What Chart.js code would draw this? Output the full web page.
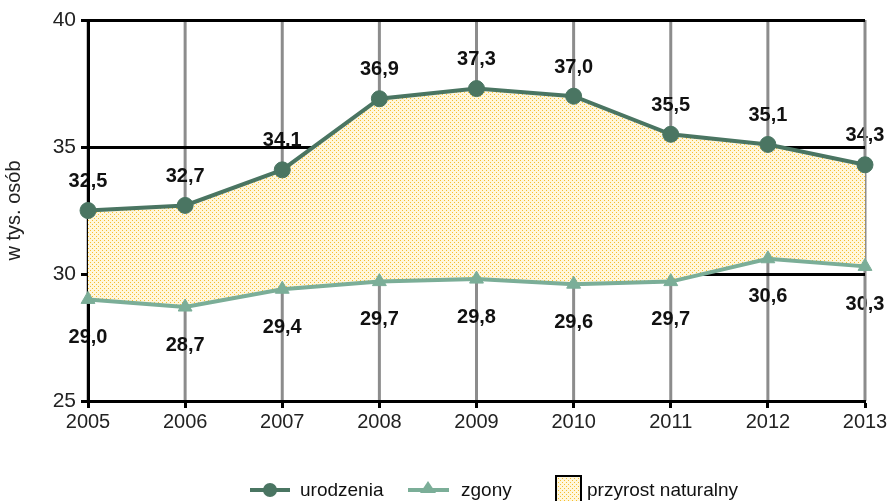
<!DOCTYPE html>
<html>
<head>
<meta charset="utf-8">
<script src="https://cdn.jsdelivr.net/npm/chart.js@4/dist/chart.umd.min.js"></script>
<style>
  html, body { margin: 0; padding: 0; background: #fff; }
  #wrap { width: 890px; height: 501px; }
</style>
</head>
<body>
<div id="wrap"><canvas id="mycanvas"></canvas></div>
<script>
var years = ['2005', '2006', '2007', '2008', '2009', '2010', '2011', '2012', '2013'];
var urodzenia = [32.5, 32.7, 34.1, 36.9, 37.3, 37.0, 35.5, 35.1, 34.3];
var zgony = [29.0, 28.7, 29.4, 29.7, 29.8, 29.6, 29.7, 30.6, 30.3];
var yMin = 25, yMax = 40, yStep = 5;
var legendLabels = ['urodzenia', 'zgony', 'przyrost naturalny'];

var colUro = '#4A7562';
var colZg = '#7BAE98';
var fontFam = '"Liberation Sans", Arial, sans-serif';

// dotted yellow fill
function makePattern() {
  var c = document.createElement('canvas');
  c.width = 4; c.height = 4;
  var g = c.getContext('2d');
  g.fillStyle = '#FFF7DC';
  g.fillRect(0, 0, 4, 4);
  g.fillStyle = '#F6BE30';
  g.fillRect(0, 0, 1, 1);
  g.fillRect(2, 2, 1, 1);
  return g.createPattern(c, 'repeat');
}
var dots = makePattern();

function fmt(v) { return v.toFixed(1).replace('.', ','); }

// grey vertical lines + value labels, under the black grid like in the original
var underlay = {
  id: 'underlay',
  beforeDraw: function(chart) {
    var ctx = chart.ctx, a = chart.chartArea, xs = chart.scales.x;
    ctx.save();
    ctx.strokeStyle = '#8C8C8C';
    ctx.lineWidth = 3;
    for (var i = 0; i < years.length - 1; i++) {
      var px = xs.getPixelForValue(i);
      ctx.beginPath(); ctx.moveTo(px, a.top); ctx.lineTo(px, a.bottom); ctx.stroke();
    }
    ctx.font = 'bold 20px ' + fontFam;
    ctx.fillStyle = '#111';
    ctx.textAlign = 'center';
    ctx.textBaseline = 'middle';
    var m0 = chart.getDatasetMeta(0), m1 = chart.getDatasetMeta(1);
    for (var j = 0; j < years.length; j++) {
      ctx.fillText(fmt(urodzenia[j]), m0.data[j].x, m0.data[j].y - 29);
      ctx.fillText(fmt(zgony[j]), m1.data[j].x, m1.data[j].y + 38);
    }
    // last line (right edge) goes over the labels
    var last = xs.getPixelForValue(years.length - 1);
    ctx.beginPath(); ctx.moveTo(last, a.top); ctx.lineTo(last, a.bottom); ctx.stroke();
    ctx.restore();
  }
};

var bottomLegend = {
  id: 'bottomLegend',
  afterDraw: function(chart) {
    var ctx = chart.ctx;
    var y = 490;
    ctx.save();
    ctx.font = '19px ' + fontFam;
    ctx.textBaseline = 'middle';
    // urodzenia
    ctx.strokeStyle = colUro; ctx.lineWidth = 4;
    ctx.beginPath(); ctx.moveTo(250, y); ctx.lineTo(290, y); ctx.stroke();
    ctx.fillStyle = colUro;
    ctx.beginPath(); ctx.arc(270, y, 7, 0, Math.PI * 2); ctx.fill();
    ctx.fillStyle = '#111';
    ctx.fillText(legendLabels[0], 300, y + 1);
    // zgony
    ctx.strokeStyle = colZg;
    ctx.beginPath(); ctx.moveTo(408, y); ctx.lineTo(449, y); ctx.stroke();
    ctx.fillStyle = colZg;
    ctx.beginPath(); ctx.moveTo(428, y - 9); ctx.lineTo(436, y + 3); ctx.lineTo(420, y + 3); ctx.closePath(); ctx.fill();
    ctx.fillStyle = '#111';
    ctx.fillText(legendLabels[1], 461, y + 1);
    // przyrost naturalny
    ctx.fillStyle = dots;
    ctx.fillRect(556, 476, 25, 27);
    ctx.strokeStyle = '#000'; ctx.lineWidth = 2;
    ctx.strokeRect(556, 476, 25, 27);
    ctx.fillStyle = '#111';
    ctx.fillText(legendLabels[2], 587, y + 1);
    ctx.restore();
  }
};

var ctx = document.getElementById('mycanvas');

var chartdata = {
  labels: years,
  datasets: [
    {
      label: legendLabels[0],
      data: urodzenia,
      borderColor: colUro,
      backgroundColor: dots,
      borderWidth: 4,
      pointRadius: 8,
      pointBackgroundColor: colUro,
      pointBorderColor: colUro,
      pointBorderWidth: 1,
      pointStyle: 'circle',
      fill: 1,
      tension: 0
    },
    {
      label: legendLabels[1],
      data: zgony,
      borderColor: colZg,
      backgroundColor: colZg,
      borderWidth: 4,
      pointRadius: 8,
      pointBackgroundColor: colZg,
      pointBorderColor: colZg,
      pointBorderWidth: 1,
      pointStyle: 'triangle',
      fill: false,
      tension: 0
    }
  ]
};

var lineGraph = new Chart(ctx, {
  type: 'line',
  data: chartdata,
  plugins: [underlay, bottomLegend],
  options: {
    responsive: true,
    maintainAspectRatio: false,
    animation: false,
    layout: { padding: { top: 20, right: 25, bottom: 70, left: 0 } },
    plugins: {
      legend: { display: false },
      tooltip: { enabled: false },
      filler: { drawTime: 'beforeDatasetsDraw' }
    },
    scales: {
      x: {
        offset: false,
        grid: { drawOnChartArea: false, color: '#000', tickColor: '#000', tickLength: 7, tickWidth: 3 },
        border: { color: '#000', width: 3 },
        ticks: { color: '#222', font: { family: fontFam, size: 20 }, padding: 2, maxRotation: 0 },
        afterFit: function(s) { s.height = 30; }
      },
      y: {
        min: yMin,
        max: yMax,
        grid: { color: '#000', lineWidth: 3, tickColor: '#000', tickLength: 7, tickWidth: 3 },
        border: { color: '#000', width: 3 },
        ticks: { stepSize: yStep, color: '#222', font: { family: fontFam, size: 21 }, padding: 5 },
        title: {
          display: true,
          text: 'w tys. osób',
          color: '#222',
          font: { family: fontFam, size: 20 },
          padding: { top: 2, bottom: 0 }
        },
        afterFit: function(s) { s.width = 88; }
      }
    }
  }
});
</script>
</body>
</html>
